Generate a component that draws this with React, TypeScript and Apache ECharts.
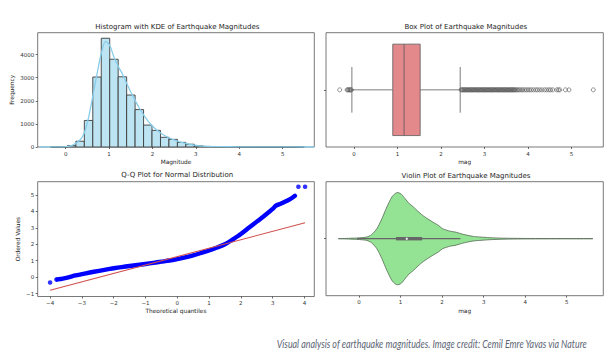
import React, { useEffect, useRef } from "react";
import * as echarts from "echarts";

// ---------- Histogram ----------
const HIST_BIN_START = -0.35;
const HIST_BIN_WIDTH = 0.195;
const HIST_COUNTS = [2, 10, 60, 250, 1150, 3030, 4710, 3800, 3040, 2250, 1620, 950, 720, 420, 330, 200, 120, 50, 25, 12, 8, 5, 4, 3, 2, 2, 1, 1, 0, 1];
const KDE_X = [-0.6, -0.25, 0.0, 0.15, 0.33, 0.43, 0.53, 0.63, 0.72, 0.82, 0.92, 1.02, 1.11, 1.21, 1.31, 1.4, 1.5, 1.6, 1.7, 1.8, 1.9, 2.0, 2.09, 2.19, 2.28, 2.38, 2.48, 2.67, 2.87, 3.06, 3.26, 3.5, 4.0, 4.5, 5.0, 5.5, 5.73];
const KDE_Y = [0, 3, 15, 70, 300, 620, 1300, 2250, 3150, 4050, 4570, 4380, 3900, 3500, 3150, 2780, 2380, 2020, 1680, 1380, 1120, 910, 750, 610, 500, 400, 320, 200, 115, 60, 30, 15, 7, 4, 2, 1, 0];
const MAG_TICKS = [0, 1, 2, 3, 4, 5];
const FREQ_TICKS = [0, 1000, 2000, 3000, 4000];

// ---------- Box plot ----------
const BOX_STATS = [-0.05, 0.89, 1.15, 1.52, 2.44]; // whisker low, Q1, median, Q3, whisker high
const BOX_OUTLIERS = [
  -0.33, -0.16, -0.14, -0.12, -0.1, -0.08, -0.06,
  2.46, 2.48, 2.5, 2.52, 2.54, 2.56, 2.58, 2.6, 2.62, 2.64, 2.66, 2.68, 2.7, 2.72, 2.74, 2.76, 2.78, 2.8,
  2.82, 2.84, 2.86, 2.88, 2.9, 2.92, 2.94, 2.96, 2.98, 3.0, 3.02, 3.04, 3.06, 3.08, 3.1, 3.12, 3.14, 3.16,
  3.18, 3.2, 3.22, 3.24, 3.26, 3.28, 3.3, 3.32, 3.34, 3.36, 3.38, 3.4, 3.42, 3.44, 3.46, 3.48, 3.5, 3.52,
  3.54, 3.56, 3.58, 3.6, 3.62, 3.64, 3.66, 3.68, 3.7, 3.72, 3.75, 3.78, 3.81, 3.85, 3.88, 3.92, 3.96,
  4.0, 4.04, 4.08, 4.13, 4.18, 4.22, 4.27, 4.32, 4.38, 4.43, 4.48, 4.52, 4.57, 4.66, 4.7, 4.73, 4.86, 4.94, 5.5,
];

// ---------- Q-Q plot ----------
const QQ_X = [-3.77, -3.6, -3.4, -3.2, -3.0, -2.75, -2.5, -2.25, -2.0, -1.75, -1.5, -1.25, -1.0, -0.75, -0.5, -0.25, 0, 0.25, 0.5, 0.75, 1.0, 1.25, 1.5, 1.75, 2.0, 2.25, 2.5, 2.75, 3.0, 3.1, 3.25, 3.4, 3.55, 3.65, 3.7];
const QQ_Y = [-0.14, -0.09, 0.0, 0.1, 0.18, 0.28, 0.37, 0.46, 0.54, 0.61, 0.68, 0.74, 0.8, 0.87, 0.94, 1.01, 1.1, 1.2, 1.32, 1.47, 1.62, 1.8, 2.0, 2.3, 2.62, 3.0, 3.38, 3.75, 4.15, 4.35, 4.47, 4.6, 4.75, 4.88, 4.95];
const QQ_END_X = [-4.0, -3.8, 3.81, 4.02];
const QQ_END_Y = [-0.33, -0.15, 5.5, 5.5];
const QQ_FIT_X = [-4.0, 4.02];
const QQ_FIT_Y = [-0.8, 3.31];
const QQ_X_TICKS = [-4, -3, -2, -1, 0, 1, 2, 3, 4];
const QQ_Y_TICKS = [-1, 0, 1, 2, 3, 4, 5];

// ---------- Violin ----------
const VIOLIN_X = [-0.5, -0.3, -0.1, 0.05, 0.19, 0.3, 0.43, 0.55, 0.67, 0.79, 0.86, 0.91, 0.96, 1.02, 1.11, 1.2, 1.31, 1.41, 1.51, 1.61, 1.71, 1.81, 1.91, 2.01, 2.11, 2.21, 2.31, 2.51, 2.75, 2.91, 3.15, 3.4, 3.63, 4.0, 4.5, 5.0, 5.63];
const VIOLIN_HALF = [0, 0.0026, 0.0053, 0.0088, 0.015, 0.035, 0.088, 0.175, 0.278, 0.366, 0.393, 0.404, 0.402, 0.39, 0.351, 0.311, 0.278, 0.243, 0.211, 0.184, 0.161, 0.138, 0.117, 0.088, 0.075, 0.064, 0.059, 0.038, 0.02, 0.015, 0.0088, 0.0053, 0.0035, 0.0022, 0.0013, 0.0007, 0];

const TITLES = [
  "Histogram with KDE of Earthquake Magnitudes",
  "Box Plot of Earthquake Magnitudes",
  "Q-Q Plot for Normal Distribution",
  "Violin Plot of Earthquake Magnitudes",
];
const CAPTION = "Visual analysis of earthquake magnitudes. Image credit: Cemil Emre Yavas via Nature";

const FONT = "DejaVu Sans";
const TICK_COLOR = "#333";
const fmt = (v: number) => (v < 0 ? "\u2212" + Math.abs(v) : String(v));

function valueAxis(gridIndex: number, min: number, max: number, ticks: number[], name: string, isY: boolean, gap: number, showLabels = true) {
  return {
    type: "value",
    gridIndex,
    min,
    max,
    name,
    nameLocation: "middle",
    nameGap: gap,
    nameRotate: isY ? 90 : 0,
    nameTextStyle: { fontFamily: FONT, fontSize: 5.8, color: "#222", verticalAlign: "middle" },
    axisLine: { show: false, onZero: false },
    splitLine: { show: false },
    axisTick: { show: true, customValues: ticks, length: 2, lineStyle: { color: "#444", width: 0.8 } },
    axisLabel: {
      show: showLabels,
      customValues: ticks,
      formatter: fmt,
      fontFamily: FONT,
      fontSize: 5.5,
      color: TICK_COLOR,
      margin: 3.5,
    },
  };
}

export default function App() {
  const ref = useRef<HTMLDivElement>(null);
  useEffect(() => {
    document.body.style.margin = "0";
    if (!ref.current) return;
    const chart = echarts.init(ref.current, undefined, { renderer: "svg" });

    let capScale = 1;
    try {
      const ctx = document.createElement("canvas").getContext("2d");
      if (ctx) {
        ctx.font = 'italic 10.5px "Lato"';
        const w = ctx.measureText(CAPTION).width;
        if (w > 0) capScale = 311 / w;
      }
    } catch (e) {}

    const gridStyle = { show: true, borderColor: "#6a6a6a", borderWidth: 0.9, backgroundColor: "transparent" };

    const option: any = {
      animation: false,
      backgroundColor: "#fff",
      grid: [
        { left: 37.7, top: 32.7, width: 276.6, height: 114.3, ...gridStyle },
        { left: 326, top: 32.7, width: 277.3, height: 114.3, ...gridStyle },
        { left: 37.7, top: 181.7, width: 276.6, height: 114.8, ...gridStyle },
        { left: 326, top: 181.7, width: 277.3, height: 114, ...gridStyle },
      ],
      xAxis: [
        valueAxis(0, -0.645, 5.73, MAG_TICKS, "Magnitude", false, 15),
        valueAxis(1, -0.645, 5.73, MAG_TICKS, "mag", false, 15),
        valueAxis(2, -4.39, 4.31, QQ_X_TICKS, "Theoretical quantiles", false, 14.5),
        valueAxis(3, -0.795, 5.88, MAG_TICKS, "mag", false, 15.5),
      ],
      yAxis: [
        valueAxis(0, 0, 4950, FREQ_TICKS, "Frequency", true, 25.5),
        valueAxis(1, -0.5, 0.5, [0], "", true, 10, false),
        valueAxis(2, -1.18, 5.81, QQ_Y_TICKS, "Ordered Values", true, 19.5),
        valueAxis(3, -0.5, 0.5, [0], "", true, 10, false),
      ],
      series: [
        {
          type: "custom",
          xAxisIndex: 0,
          yAxisIndex: 0,
          data: HIST_COUNTS.map((c, i) => [HIST_BIN_START + i * HIST_BIN_WIDTH, HIST_BIN_START + (i + 1) * HIST_BIN_WIDTH, c]),
          renderItem: (params: any, api: any) => {
            const p0 = api.coord([api.value(0), api.value(2)]);
            const p1 = api.coord([api.value(1), 0]);
            return {
              type: "rect",
              shape: { x: p0[0], y: p0[1], width: p1[0] - p0[0], height: p1[1] - p0[1] },
              style: { fill: "#bde4f3", stroke: "#3c3c3c", lineWidth: 0.9 },
            };
          },
          z: 2,
        },
        {
          type: "line",
          xAxisIndex: 0,
          yAxisIndex: 0,
          data: KDE_X.map((x, i) => [x, KDE_Y[i]]),
          smooth: 0.3,
          showSymbol: false,
          lineStyle: { color: "#87CEEB", width: 1.3 },
          z: 3,
        },
        {
          type: "custom",
          xAxisIndex: 1,
          yAxisIndex: 1,
          data: [BOX_STATS],
          renderItem: (params: any, api: any) => {
            const lo = api.value(0), q1 = api.value(1), med = api.value(2), q3 = api.value(3), hi = api.value(4);
            const c = (x: number, y: number) => api.coord([x, y]);
            const st = { stroke: "#5a5a5a", lineWidth: 0.8 };
            const line = (a: number[], b: number[]) => ({ type: "line", shape: { x1: a[0], y1: a[1], x2: b[0], y2: b[1] }, style: st });
            const bTop = c(q1, 0.4), bBot = c(q3, -0.4);
            return {
              type: "group",
              children: [
                line(c(lo, 0), c(q1, 0)),
                line(c(q3, 0), c(hi, 0)),
                line(c(lo, 0.2), c(lo, -0.2)),
                line(c(hi, 0.2), c(hi, -0.2)),
                {
                  type: "rect",
                  shape: { x: bTop[0], y: bTop[1], width: bBot[0] - bTop[0], height: bBot[1] - bTop[1] },
                  style: { fill: "#e3888b", stroke: "#5a5a5a", lineWidth: 0.8 },
                },
                line(c(med, 0.4), c(med, -0.4)),
              ],
            };
          },
        },
        {
          type: "scatter",
          xAxisIndex: 1,
          yAxisIndex: 1,
          data: BOX_OUTLIERS.map((v) => [v, 0]),
          symbol: "circle",
          symbolSize: 4,
          itemStyle: { color: "rgba(0,0,0,0)", borderColor: "#555", borderWidth: 0.8 },
        },
        {
          type: "line",
          xAxisIndex: 2,
          yAxisIndex: 2,
          data: QQ_X.map((x, i) => [x, QQ_Y[i]]),
          smooth: 0.3,
          showSymbol: false,
          lineStyle: { color: "#0000ff", width: 4.4, cap: "round", join: "round" },
          z: 2,
        },
        {
          type: "scatter",
          xAxisIndex: 2,
          yAxisIndex: 2,
          data: QQ_END_X.map((x, i) => [x, QQ_END_Y[i]]),
          symbol: "circle",
          symbolSize: 4.6,
          itemStyle: { color: "#0000ff" },
          z: 2,
        },
        {
          type: "line",
          xAxisIndex: 2,
          yAxisIndex: 2,
          data: QQ_FIT_X.map((x, i) => [x, QQ_FIT_Y[i]]),
          showSymbol: false,
          lineStyle: { color: "#d0504e", width: 1.1 },
          z: 3,
        },
        {
          type: "custom",
          xAxisIndex: 3,
          yAxisIndex: 3,
          data: [BOX_STATS],
          renderItem: (params: any, api: any) => {
            const top = VIOLIN_X.map((x, i) => api.coord([x, VIOLIN_HALF[i]]));
            const bot = VIOLIN_X.map((x, i) => api.coord([x, -VIOLIN_HALF[i]])).reverse();
            const lo = api.coord([api.value(0), 0]);
            const q1 = api.coord([api.value(1), 0]);
            const med = api.coord([api.value(2), 0]);
            const q3 = api.coord([api.value(3), 0]);
            const hi = api.coord([api.value(4), 0]);
            return {
              type: "group",
              children: [
                {
                  type: "polygon",
                  shape: { points: top.concat(bot), smooth: 0.25 },
                  style: { fill: "#94e294", stroke: "#556b55", lineWidth: 0.8 },
                },
                { type: "line", shape: { x1: lo[0], y1: lo[1], x2: hi[0], y2: hi[1] }, style: { stroke: "#666", lineWidth: 1.3 } },
                { type: "rect", shape: { x: q1[0], y: q1[1] - 1.7, width: q3[0] - q1[0], height: 3.4 }, style: { fill: "#666" } },
                { type: "circle", shape: { cx: med[0], cy: med[1], r: 1.2 }, style: { fill: "#e8e8e8" } },
              ],
            };
          },
        },
      ],
      graphic: [
        ...[[177.3, 27], [465.8, 26.7], [177.3, 175.2], [466, 175.7]].map((p, i) => ({
          type: "text",
          x: p[0],
          y: p[1],
          style: { text: TITLES[i], fontFamily: FONT, fontSize: 7, fill: "#1e1e1e", align: "center", verticalAlign: "middle" },
        })),
        {
          type: "text",
          x: 276.7,
          y: 343.3,
          scaleX: capScale,
          style: { text: CAPTION, fontFamily: "Lato", fontStyle: "italic", fontSize: 10.5, fill: "#5b6473", align: "left", verticalAlign: "middle" },
        },
      ],
    };
    chart.setOption(option);
    return () => chart.dispose();
  }, []);
  return <div ref={ref} style={{ position: "absolute", left: 0, top: 0, width: 610, height: 356 }} />;
}
